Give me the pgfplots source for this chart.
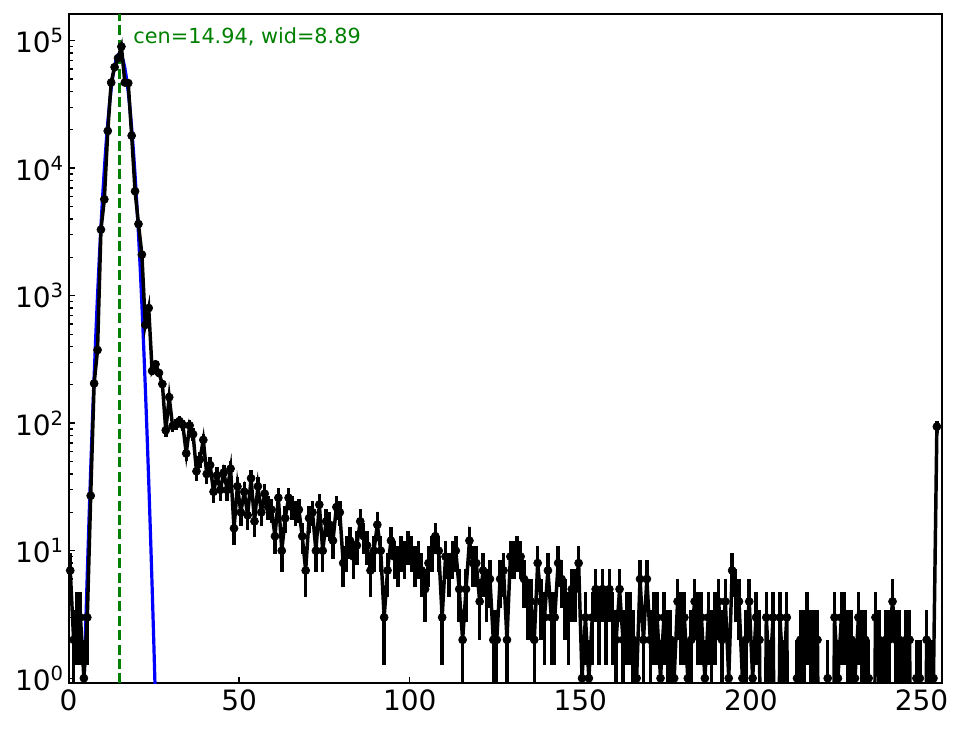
\documentclass[border=0pt]{standalone}
\usepackage{pgfplots}
\pgfplotsset{compat=1.18}
\usepackage{pgfplotstable}
\usepackage{fontspec}
\setmainfont{DejaVu Sans}
\definecolor{mplgreen}{HTML}{008000}
\definecolor{mplblue}{HTML}{0000FF}

\pgfplotstableread{
x y
0.5 7
1.5 2
2.5 3
3.5 3
4.5 1
5.5 3
6.5 27
7.5 205
8.5 375
9.5 3300
10.5 5700
11.5 19600
12.5 47000
13.5 62000
14.5 73000
15.5 90000
16.5 47000
17.5 46500
18.5 18000
19.5 6600
20.5 3650
21.5 2100
22.5 590
23.5 800
24.5 257
25.5 290
26.5 248
27.5 203
28.5 88
29.5 160
30.5 95
31.5 98
32.5 104
33.5 97
34.5 58
35.5 96
36.5 82
37.5 42
38.5 52
39.5 74
40.5 40
41.5 47
42.5 29
43.5 39
44.5 30
45.5 41
46.5 30
47.5 44
48.5 15
49.5 32
50.5 20
51.5 29
52.5 19
53.5 37
54.5 17
55.5 32
56.5 20
57.5 28
58.5 22
59.5 21
60.5 13
61.5 26
62.5 10
63.5 18
64.5 26
65.5 22
66.5 20
67.5 21
68.5 13
69.5 7
70.5 18
71.5 20
72.5 10
73.5 23
74.5 10
75.5 17
76.5 16
77.5 12
78.5 22
79.5 20
80.5 8
81.5 10
82.5 12
83.5 9
84.5 11
85.5 17
86.5 13
87.5 11
88.5 7
89.5 10
90.5 16
91.5 10
92.5 3
93.5 7
94.5 12
95.5 9
96.5 8
97.5 10
98.5 9
99.5 11
100.5 10
101.5 8
102.5 9
103.5 7
104.5 5
105.5 8
106.5 10
107.5 13
108.5 10
109.5 3
110.5 9
111.5 7
112.5 9
113.5 10
114.5 5
115.5 2
116.5 5
117.5 12
118.5 8
119.5 8
120.5 4
121.5 7
122.5 5
123.5 6
124.5 2
125.5 2
126.5 6
127.5 7
128.5 2
129.5 9
130.5 9
131.5 10
132.5 9
133.5 6
134.5 4
135.5 4
136.5 2
137.5 8
138.5 4
139.5 3
140.5 7
141.5 3
142.5 3
143.5 8
144.5 6
145.5 4
146.5 3
147.5 5
148.5 5
149.5 8
150.5 1
151.5 3
152.5 1
153.5 3
154.5 5
155.5 3
156.5 5
157.5 3
158.5 5
159.5 3
160.5 2
161.5 5
162.5 2
163.5 3
164.5 3
165.5 2
166.5 1
167.5 6
168.5 2
169.5 6
170.5 2
171.5 3
172.5 3
173.5 1
174.5 3
175.5 2
176.5 2
177.5 1
178.5 4
179.5 3
180.5 3
181.5 1
182.5 2
183.5 4
184.5 3
185.5 3
186.5 1
187.5 3
188.5 2
189.5 3
190.5 4
191.5 2
192.5 4
193.5 1
194.5 7
195.5 5
196.5 4
197.5 1
198.5 2
199.5 4
200.5 1
201.5 3
202.5 2
203.5 0
204.5 3
205.5 1
206.5 3
207.5 0
208.5 3
209.5 1
210.5 3
211.5 0
212.5 0
213.5 1
214.5 2
215.5 2
216.5 3
217.5 2
218.5 2
219.5 2
220.5 0
221.5 0
222.5 1
223.5 0
224.5 3
225.5 1
226.5 3
227.5 3
228.5 2
229.5 2
230.5 1
231.5 3
232.5 2
233.5 2
234.5 1
235.5 0
236.5 3
237.5 2
238.5 1
239.5 2
240.5 2
241.5 4
242.5 2
243.5 2
244.5 1
245.5 2
246.5 2
247.5 0
248.5 1
249.5 1
250.5 0
251.5 2
252.5 1
253.5 1
254.5 94
}\datatable

\pgfplotstableread{
x y
3.5 0.082
4.0 0.267
4.5 0.82
5.0 2.40
5.5 6.66
6.0 17.5
6.5 43.8
7.0 103.7
7.5 233
8.0 496
8.5 1004
9.0 1927
9.5 3505
10.0 6051
10.5 9921
11.0 15420
11.5 22740
12.0 31800
12.5 42220
13.0 53160
13.5 63510
14.0 71980
14.5 77400
14.94 79000
15.5 76430
16.0 70190
16.5 61150
17.0 50540
17.5 39630
18.0 29480
18.5 20810
19.0 13940
19.5 8850
20.0 5335
20.5 3049
21.0 1654
21.5 852
22.0 416
22.5 192.5
23.0 84.7
23.5 35.3
24.0 13.96
24.5 5.24
25.0 1.87
25.5 0.63
26.0 0.20
26.5 0.06
}\fittable

\begin{document}
\begin{tikzpicture}
\useasboundingbox (-51.4pt,-34.3pt) rectangle (671.6pt,512.5pt);
\begin{axis}[
  at={(0pt,0pt)}, anchor=south west,
  scale only axis, width=655.1pt, height=502pt,
  ymode=log, xmin=0, xmax=256, ymin=0.912, ymax=1.62e5,
  axis line style={line width=1.5pt, black},
  tick align=inside, xtick pos=bottom, ytick pos=left,
  xtick={0,50,100,150,200,250},
  ytick={1,10,100,1000,10000,100000},
  yticklabels={10\textsuperscript{0},10\textsuperscript{1},10\textsuperscript{2},10\textsuperscript{3},10\textsuperscript{4},10\textsuperscript{5}},
  minor ytick={2,3,4,5,6,7,8,9,20,30,40,50,60,70,80,90,200,300,400,500,600,700,800,900,2000,3000,4000,5000,6000,7000,8000,9000,20000,30000,40000,50000,60000,70000,80000,90000},
  major tick length=5pt, minor tick length=3pt,
  major tick style={line width=1.1pt, black},
  minor tick style={line width=0.9pt, black},
  xticklabel style={font=\fontsize{21}{21}\selectfont, yshift=-1pt},
  yticklabel style={font=\fontsize{21}{21}\selectfont},
  /pgf/number format/assume math mode=true,
  clip=true,
]
\addplot[mplgreen, line width=2pt, dash pattern=on 7.4pt off 3.4pt, forget plot] coordinates {(14.94,0.912) (14.94,1.62e5)};
\addplot[mplblue, line width=2.4pt, no markers] table[x=x, y=y] {\fittable};
\addplot[black, line width=2.6pt, mark=*, mark size=3pt, mark options={line width=0.5pt},
  error bars/.cd, y dir=both, y explicit, error mark=none,
  error bar style={line width=2.6pt, black}]
  table[x=x, y expr={max(\thisrow{y},0.001)},
        y error plus expr={sqrt(\thisrow{y})},
        y error minus expr={min(sqrt(\thisrow{y}),0.999*\thisrow{y})}] {\datatable};
\node[anchor=south west, inner sep=0pt, text=mplgreen, font=\fontsize{15.6}{15.6}\selectfont] at (axis cs:18.94,90000) {cen=14.94, wid=8.89};
\end{axis}
\end{tikzpicture}
\end{document}
